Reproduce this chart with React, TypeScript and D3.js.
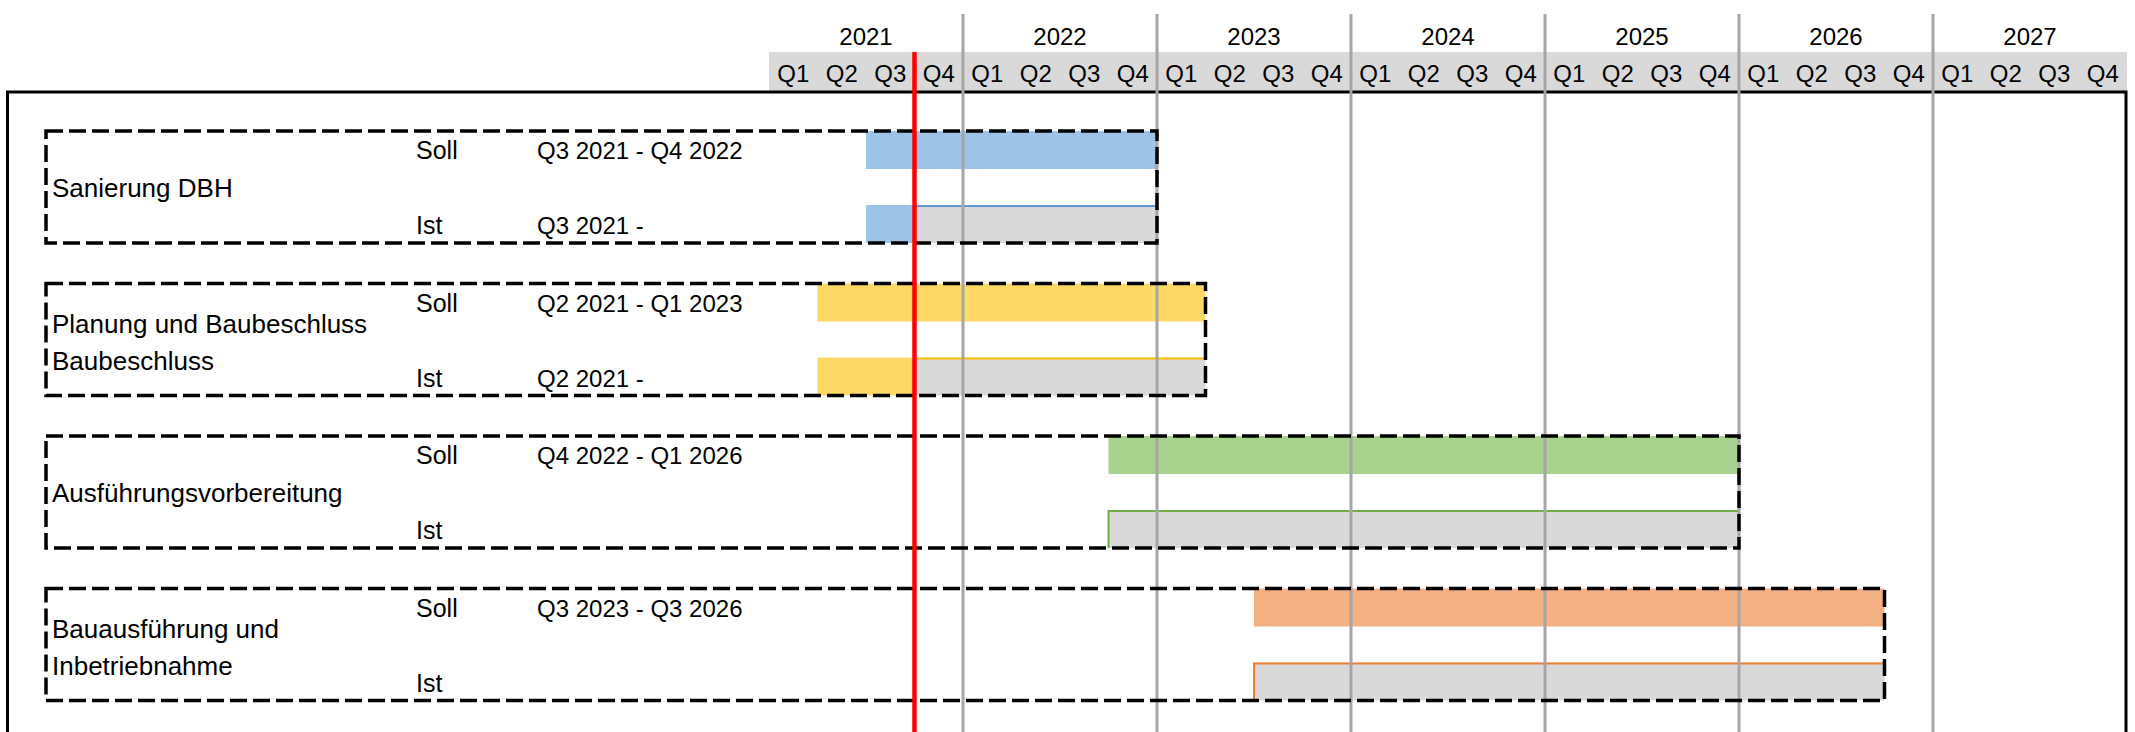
import React from 'react';
import * as d3 from 'd3';

// timeline, in decimal years (2021.25 = start of Q2 2021)
const years = [2021, 2022, 2023, 2024, 2025, 2026, 2027];
const quarters = ['Q1', 'Q2', 'Q3', 'Q4'];
const today = 2021.75;

const taskLabels = [
  ['Sanierung DBH'],
  ['Planung und Baubeschluss', 'Baubeschluss'],
  ['Ausführungsvorbereitung'],
  ['Bauausführung und', 'Inbetriebnahme'],
];
const sollStart = [2021.5, 2021.25, 2022.75, 2023.5];
const sollEnd = [2023.0, 2023.25, 2026.0, 2026.75];
const istStart = [2021.5, 2021.25, null, null];
const sollText = ['Q3 2021 - Q4 2022', 'Q2 2021 - Q1 2023', 'Q4 2022 - Q1 2026', 'Q3 2023 - Q3 2026'];
const istText = ['Q3 2021 -', 'Q2 2021 -', '', ''];
const fillColors = ['#9DC3E6', '#FFD966', '#A9D18E', '#F4B183'];
const lineColors = ['#5B9BD5', '#FFC000', '#70AD47', '#ED7D31'];

const W = 2135;
const H = 732;
const FONT = '"Liberation Sans", Arial, sans-serif';

export default function App() {
  const x = d3.scaleLinear().domain([2021, 2028]).range([769, 2127]);
  const groupTop = d3.scaleLinear().domain([0, 1]).range([131, 283.5]);
  const boxH = 112;
  const barH = 38;

  return (
    <svg width={W} height={H} style={{ position: 'absolute', left: 0, top: 0, background: '#fff' }}
      fontFamily={FONT}>
      {/* header */}
      <rect x={x(2021)} y={52} width={x(2028) - x(2021)} height={39} fill="#D9D9D9" />
      {years.map((yr) => (
        <text key={yr} x={x(yr + 0.5)} y={45} fontSize={24} textAnchor="middle">{yr}</text>
      ))}
      {years.map((yr) =>
        quarters.map((q, i) => (
          <text key={yr + q} x={x(yr + i * 0.25 + 0.125)} y={82} fontSize={24} textAnchor="middle">{q}</text>
        ))
      )}

      {/* outer frame */}
      <rect x={7.5} y={92} width={2118.5} height={H} fill="none" stroke="#000" strokeWidth={3} />

      {/* bars */}
      {taskLabels.map((lines, i) => {
        const top = groupTop(i);
        const istY = top + boxH - barH;
        const started = istStart[i] != null;
        const lineFrom = started ? today : sollStart[i];
        return (
          <g key={i}>
            <rect x={x(sollStart[i])} y={top} width={x(sollEnd[i]) - x(sollStart[i])} height={barH}
              fill={fillColors[i]} />
            <rect x={x(lineFrom)} y={istY} width={x(sollEnd[i]) - x(lineFrom)} height={barH} fill="#D9D9D9" />
            {started && (
              <rect x={x(istStart[i] as number)} y={istY} width={x(today) - x(istStart[i] as number)}
                height={barH} fill={fillColors[i]} />
            )}
            <path
              d={`M${x(lineFrom)},${istY + barH} V${istY + 1} H${x(sollEnd[i])}`}
              fill="none" stroke={lineColors[i]} strokeWidth={2} />
          </g>
        );
      })}

      {/* year separators */}
      {years.slice(1).map((yr) => (
        <line key={yr} x1={x(yr)} x2={x(yr)} y1={14} y2={H} stroke="#A6A6A6" strokeWidth={3} />
      ))}

      {/* dashed group boxes and texts */}
      {taskLabels.map((lines, i) => {
        const top = groupTop(i);
        const labelY = lines.length === 1 ? [top + 66] : [top + 49, top + 86];
        return (
          <g key={i}>
            <rect x={46} y={top} width={x(sollEnd[i]) - 46} height={boxH} fill="none"
              stroke="#000" strokeWidth={3.5} strokeDasharray="17 6" />
            {lines.map((l, j) => (
              <text key={j} x={52} y={labelY[j]} fontSize={26}>{l}</text>
            ))}
            <text x={416} y={top + 28} fontSize={25}>Soll</text>
            <text x={416} y={top + 103} fontSize={25}>Ist</text>
            <text x={537} y={top + 28} fontSize={24}>{sollText[i]}</text>
            <text x={537} y={top + 103} fontSize={24}>{istText[i]}</text>
          </g>
        );
      })}

      {/* today */}
      <line x1={x(today)} x2={x(today)} y1={52} y2={H} stroke="#FF0000" strokeWidth={4.5} />
    </svg>
  );
}
